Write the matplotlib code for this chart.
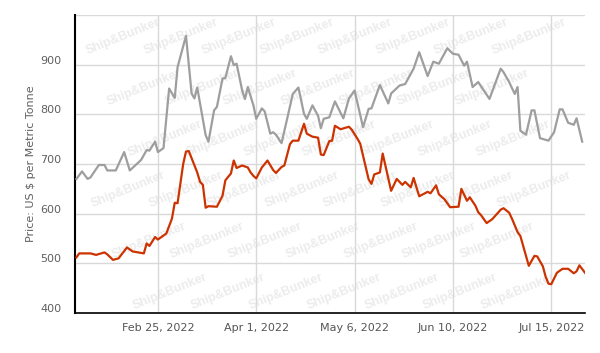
import matplotlib
matplotlib.use('Agg')
import matplotlib.pyplot as plt
import matplotlib.transforms as mtransforms
import pandas as pd

# ---------------- data ----------------
gray_dates = [
    '2022-01-27', '2022-01-29', '2022-01-31', '2022-02-01', '2022-02-04', '2022-02-06',
    '2022-02-07', '2022-02-10', '2022-02-13', '2022-02-15', '2022-02-19', '2022-02-21',
    '2022-02-22', '2022-02-24', '2022-02-25', '2022-02-27', '2022-03-01', '2022-03-03',
    '2022-03-04', '2022-03-07', '2022-03-09', '2022-03-10', '2022-03-11', '2022-03-14',
    '2022-03-15', '2022-03-17', '2022-03-18', '2022-03-20', '2022-03-21', '2022-03-23',
    '2022-03-24', '2022-03-25', '2022-03-27', '2022-03-28', '2022-03-29', '2022-03-31',
    '2022-04-01', '2022-04-03', '2022-04-04', '2022-04-06', '2022-04-07', '2022-04-08',
    '2022-04-10', '2022-04-12', '2022-04-14', '2022-04-16', '2022-04-18', '2022-04-19',
    '2022-04-21', '2022-04-23', '2022-04-24', '2022-04-25', '2022-04-27', '2022-04-29',
    '2022-05-02', '2022-05-04', '2022-05-06', '2022-05-09', '2022-05-11', '2022-05-12',
    '2022-05-15', '2022-05-18', '2022-05-19', '2022-05-22', '2022-05-24', '2022-05-27',
    '2022-05-29', '2022-06-01', '2022-06-03', '2022-06-05', '2022-06-08', '2022-06-10',
    '2022-06-12', '2022-06-14', '2022-06-15', '2022-06-17', '2022-06-19', '2022-06-23',
    '2022-06-27', '2022-06-28', '2022-06-30', '2022-07-02', '2022-07-03', '2022-07-04',
    '2022-07-06', '2022-07-08', '2022-07-09', '2022-07-11', '2022-07-14', '2022-07-16',
    '2022-07-18', '2022-07-19', '2022-07-21', '2022-07-23', '2022-07-24', '2022-07-26',
]
gray_values = [
    670, 685, 670, 673, 698, 698,
    687, 687, 724, 687, 708, 728,
    727, 745, 724, 732, 852, 833,
    895, 958, 842, 832, 854, 758,
    745, 808, 815, 872, 873, 917,
    899, 902, 848, 831, 855, 818,
    791, 812, 806, 761, 764, 759,
    742, 791, 841, 854, 801, 791,
    818, 797, 772, 791, 794, 826,
    792, 832, 848, 774, 811, 812,
    859, 822, 842, 858, 861, 892,
    925, 877, 906, 902, 933, 922,
    920, 898, 906, 855, 865, 831,
    892, 885, 865, 841, 855, 767,
    759, 808, 808, 752, 747, 764,
    810, 810, 783, 779, 792, 745,
]

orange_dates = [
    '2022-01-27', '2022-01-28', '2022-02-01', '2022-02-03', '2022-02-06', '2022-02-07',
    '2022-02-09', '2022-02-11', '2022-02-14', '2022-02-16', '2022-02-20', '2022-02-21',
    '2022-02-22', '2022-02-24', '2022-02-25', '2022-02-28', '2022-03-02', '2022-03-03',
    '2022-03-04', '2022-03-06', '2022-03-07', '2022-03-08', '2022-03-11', '2022-03-12',
    '2022-03-13', '2022-03-14', '2022-03-15', '2022-03-18', '2022-03-20', '2022-03-21',
    '2022-03-23', '2022-03-24', '2022-03-25', '2022-03-27', '2022-03-29', '2022-03-30',
    '2022-03-31', '2022-04-01', '2022-04-03', '2022-04-05', '2022-04-07', '2022-04-08',
    '2022-04-10', '2022-04-11', '2022-04-13', '2022-04-14', '2022-04-16', '2022-04-18',
    '2022-04-19', '2022-04-21', '2022-04-23', '2022-04-24', '2022-04-25', '2022-04-27',
    '2022-04-28', '2022-04-29', '2022-05-01', '2022-05-04', '2022-05-05', '2022-05-07',
    '2022-05-08', '2022-05-11', '2022-05-12', '2022-05-13', '2022-05-15', '2022-05-16',
    '2022-05-19', '2022-05-21', '2022-05-23', '2022-05-24', '2022-05-26', '2022-05-27',
    '2022-05-29', '2022-06-01', '2022-06-02', '2022-06-04', '2022-06-05', '2022-06-07',
    '2022-06-09', '2022-06-12', '2022-06-13', '2022-06-15', '2022-06-16', '2022-06-18',
    '2022-06-19', '2022-06-20', '2022-06-22', '2022-06-24', '2022-06-27', '2022-06-28',
    '2022-06-30', '2022-07-01', '2022-07-03', '2022-07-04', '2022-07-06', '2022-07-07',
    '2022-07-09', '2022-07-10', '2022-07-12', '2022-07-13', '2022-07-14', '2022-07-15',
    '2022-07-17', '2022-07-19', '2022-07-21', '2022-07-23', '2022-07-24', '2022-07-25',
    '2022-07-27',
]
orange_values = [
    512, 520, 520, 517, 522, 518,
    507, 510, 532, 524, 520, 540,
    535, 553, 548, 560, 590, 622,
    621, 700, 725, 726, 683, 664,
    658, 612, 615, 614, 636, 667,
    681, 707, 692, 697, 693, 683,
    676, 671, 693, 707, 688, 682,
    694, 697, 740, 747, 747, 781,
    761, 755, 753, 719, 718, 746,
    747, 777, 770, 775, 769, 751,
    741, 669, 660, 679, 683, 721,
    646, 670, 658, 664, 653, 672,
    635, 644, 641, 657, 639, 629,
    613, 614, 650, 626, 633, 616,
    603, 597, 581, 589, 608, 611,
    602, 590, 563, 555, 515, 495,
    515, 514, 494, 473, 459, 458,
    481, 489, 489, 480, 484, 496,
    481,
]

x_tick_dates = ['2022-02-25', '2022-04-01', '2022-05-06', '2022-06-10', '2022-07-15']
x_tick_labels = ['Feb 25, 2022', 'Apr 1, 2022', 'May 6, 2022', 'Jun 10, 2022', 'Jul 15, 2022']
y_ticks = [400, 500, 600, 700, 800, 900, 1000]
y_tick_labels = ['400', '500', '600', '700', '800', '900', '']
y_title = 'Price: US $ per Metric Tonne'
watermark = 'Ship&Bunker'

# ---------------- figure ----------------
W, H, DPI = 600, 353, 100
fig = plt.figure(figsize=(W / DPI, H / DPI), dpi=DPI)
L, R, T, B = 75, 585, 15, 313
ax = fig.add_axes([L / W, 1 - B / H, (R - L) / W, (B - T) / H])

gx = pd.to_datetime(gray_dates)
ox = pd.to_datetime(orange_dates)

# faint watermark pattern (decorative), only whole copies inside the plot
for i in range(7):
    for j in range(-1, 10):
        xp = j * 58 + (i * 21) % 58 - 10
        yp = 22 + i * 51
        if 42 <= xp <= (R - L) - 42 and 22 <= yp <= (B - T) - 20:
            ax.text(xp / (R - L), 1 - yp / (B - T), watermark, transform=ax.transAxes,
                    rotation=22, fontsize=9, fontweight='bold', color='#ececec',
                    family=['Liberation Sans', 'DejaVu Sans'], ha='center', va='center',
                    zorder=0.5)

ax.plot(gx, gray_values, color='#9e9e9e', lw=1.6, zorder=3, solid_joinstyle='round')
ax.plot(ox, orange_values, color='#cc3300', lw=1.6, zorder=4, solid_joinstyle='round')

ax.set_xlim(pd.Timestamp('2022-01-26 12:00'), pd.Timestamp('2022-07-27 00:00'))
ax.set_ylim(400, 1000)

ax.set_yticks(y_ticks)
ax.set_yticklabels(y_tick_labels)
ax.set_xticks(pd.to_datetime(x_tick_dates))
ax.set_xticklabels(x_tick_labels)

ax.grid(True, color='#d9d9d9', lw=1.0, zorder=1)
ax.set_axisbelow(True)

for s in ['top', 'right']:
    ax.spines[s].set_visible(False)
ax.spines['left'].set_color('black')
ax.spines['left'].set_linewidth(1.5)
ax.spines['bottom'].set_color('black')
ax.spines['bottom'].set_linewidth(1.2)

ax.tick_params(axis='y', length=0, pad=10, labelsize=8, labelcolor='#606060')
ax.tick_params(axis='x', length=0, pad=7, labelsize=8, labelcolor='#555555')

offset = mtransforms.ScaledTranslation(0, 5 / DPI, fig.dpi_scale_trans)
for lab in ax.get_yticklabels():
    lab.set_transform(lab.get_transform() + offset)

ax.set_ylabel(y_title, fontsize=8, color='#606060', labelpad=3)

fig.savefig('out.png', dpi=DPI)
